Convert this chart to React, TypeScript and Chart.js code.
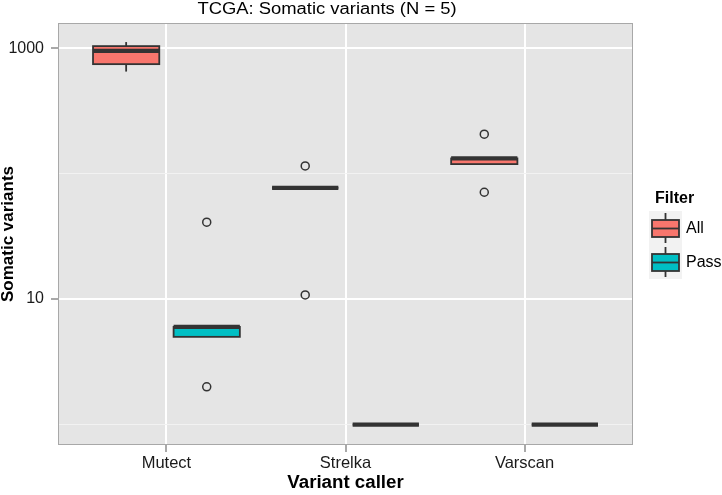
import React, { useEffect, useRef } from 'react';
import { Chart, registerables } from 'chart.js';

Chart.register(...registerables);

const FONT = '"Liberation Sans", Arial, Helvetica, sans-serif';

const chartTitle = 'TCGA: Somatic variants (N = 5)';
const xTitle = 'Variant caller';
const yTitle = 'Somatic variants';
const legendTitle = 'Filter';

const categories = ['Mutect', 'Strelka', 'Varscan'];
const groups = ['All', 'Pass'];
const groupColors = ['#F8766D', '#00BFC4'];

// [lower whisker, q1, median, q3, upper whisker]
const allStats = [
  [650, 745, 951, 1037, 1117],
  [77, 77, 77, 77, 77],
  [119, 119, 132, 132, 132],
];
const passStats = [
  [5, 5, 6, 6, 6],
  [1, 1, 1, 1, 1],
  [1, 1, 1, 1, 1],
];
const allOutliers = [[], [115, 10.8], [206, 71]];
const passOutliers = [[41, 2], [], []];

const yTicks = [1, 10, 100, 1000];
const yTickLabels = ['', '10', '', '1000'];
const yMajor = [10, 1000];

const DODGE = 0.225;
const BOX_WIDTH = 0.37;

const statsByGroup = [allStats, passStats];
const outliersByGroup = [allOutliers, passOutliers];

const panelPlugin = {
  id: 'panel',
  beforeDraw(chart: any) {
    const { ctx, chartArea: a } = chart;
    ctx.save();
    ctx.fillStyle = '#E5E5E5';
    ctx.fillRect(a.left, a.top, a.right - a.left, a.bottom - a.top);
    ctx.restore();
  },
  beforeDatasetsDraw(chart: any) {
    const { ctx } = chart;
    const x = chart.scales.x;
    const y = chart.scales.y;
    ctx.save();
    statsByGroup.forEach((stats, g) => {
      stats.forEach((s, i) => {
        const cx = x.getPixelForValue(i + 1 + (g === 0 ? -DODGE : DODGE));
        const half = (x.getPixelForValue(BOX_WIDTH) - x.getPixelForValue(0)) / 2;
        const [lo, q1, med, q3, hi] = s.map((v) => y.getPixelForValue(v));
        ctx.strokeStyle = '#333333';
        ctx.lineWidth = 1.8;
        ctx.lineCap = 'butt';
        if (hi < q3) {
          ctx.beginPath();
          ctx.moveTo(cx, q3);
          ctx.lineTo(cx, hi);
          ctx.stroke();
        }
        if (lo > q1) {
          ctx.beginPath();
          ctx.moveTo(cx, q1);
          ctx.lineTo(cx, lo);
          ctx.stroke();
        }
        ctx.fillStyle = groupColors[g];
        ctx.fillRect(cx - half, q3, half * 2, q1 - q3);
        ctx.strokeRect(cx - half, q3, half * 2, q1 - q3);
        ctx.lineWidth = 4.2;
        ctx.beginPath();
        ctx.moveTo(cx - half, med);
        ctx.lineTo(cx + half, med);
        ctx.stroke();
      });
    });
    ctx.restore();
  },
  afterDraw(chart: any) {
    const { ctx, chartArea: a } = chart;
    ctx.save();
    ctx.strokeStyle = '#A8A8A8';
    ctx.lineWidth = 1;
    ctx.strokeRect(a.left - 0.5, a.top - 0.5, a.right - a.left + 1, a.bottom - a.top + 1);

    // plot title
    ctx.save();
    ctx.fillStyle = '#000';
    ctx.font = `16px ${FONT}`;
    ctx.textAlign = 'center';
    ctx.textBaseline = 'middle';
    ctx.translate(327, 10);
    ctx.scale(1.15, 1);
    ctx.fillText(chartTitle, 0, 0);
    ctx.restore();

    // legend
    ctx.fillStyle = '#000';
    ctx.font = `bold 16px ${FONT}`;
    ctx.textAlign = 'left';
    ctx.textBaseline = 'middle';
    ctx.fillText(legendTitle, 655, 198.5);
    groups.forEach((name, g) => {
      const kx = 649;
      const ky = 211 + g * 34;
      ctx.fillStyle = '#F2F2F2';
      ctx.fillRect(kx, ky, 33, 34);
      ctx.strokeStyle = '#333333';
      ctx.lineWidth = 1.8;
      ctx.beginPath();
      ctx.moveTo(kx + 16.5, ky + 2);
      ctx.lineTo(kx + 16.5, ky + 32);
      ctx.stroke();
      ctx.fillStyle = groupColors[g];
      ctx.fillRect(kx + 3, ky + 9, 27, 17);
      ctx.strokeRect(kx + 3, ky + 9, 27, 17);
      ctx.beginPath();
      ctx.moveTo(kx + 3, ky + 17.5);
      ctx.lineTo(kx + 30, ky + 17.5);
      ctx.stroke();
      ctx.fillStyle = '#000';
      ctx.font = `16px ${FONT}`;
      ctx.fillText(name, 686, ky + 18);
    });
    ctx.restore();
  },
};

export default function App() {
  const ref = useRef<HTMLCanvasElement | null>(null);

  useEffect(() => {
    if (!ref.current) return;
    Chart.defaults.font.family = FONT;
    const datasets = groups.map((name, g) => ({
      label: name,
      data: outliersByGroup[g].flatMap((vals, i) =>
        vals.map((v) => ({ x: i + 1 + (g === 0 ? -DODGE : DODGE), y: v }))
      ),
      pointRadius: 4,
      pointHoverRadius: 4,
      borderWidth: 1.5,
      borderColor: '#333333',
      backgroundColor: 'rgba(0,0,0,0)',
      showLine: false,
    }));

    const chart = new Chart(ref.current, {
      type: 'scatter',
      data: { datasets },
      plugins: [panelPlugin],
      options: {
        responsive: false,
        animation: false,
        events: [],
        layout: { padding: { left: 0, right: 90, top: 24, bottom: 0 } },
        plugins: {
          legend: { display: false },
          tooltip: { enabled: false },
          title: { display: false },
        },
        scales: {
          x: {
            type: 'linear',
            min: 0.4,
            max: 3.6,
            afterBuildTicks: (s: any) => {
              s.ticks = categories.map((_, i) => ({ value: i + 1 }));
            },
            afterFit: (s: any) => {
              s.height = 51;
            },
            ticks: {
              callback: (v: any) => categories[Number(v) - 1] ?? '',
              font: { size: 16.5, family: FONT },
              color: '#1a1a1a',
              padding: 2,
              maxRotation: 0,
              autoSkip: false,
            },
            grid: {
              color: '#FFFFFF',
              lineWidth: 2,
              tickColor: '#8C8C8C',
              tickLength: 8,
              tickWidth: 1.5,
            },
            border: { display: false },
            title: {
              display: true,
              text: xTitle,
              color: '#000',
              font: { size: 18.7, weight: 'bold', family: FONT, lineHeight: 1 },
              padding: { top: 0, bottom: 3 },
            },
          },
          y: {
            type: 'logarithmic',
            min: 0.705,
            max: 1556,
            afterBuildTicks: (s: any) => {
              s.ticks = yTicks.map((v) => ({ value: v }));
            },
            afterFit: (s: any) => {
              s.width = 59;
            },
            ticks: {
              callback: (v: any) => {
                const idx = yTicks.indexOf(Number(v));
                return idx >= 0 ? yTickLabels[idx] : '';
              },
              font: { size: 16, family: FONT },
              color: '#1a1a1a',
              padding: 7,
              autoSkip: false,
            },
            grid: {
              color: (c: any) => (c.tick && yMajor.includes(c.tick.value) ? '#FFFFFF' : '#F2F2F2'),
              lineWidth: (c: any) => (c.tick && yMajor.includes(c.tick.value) ? 2 : 1),
              tickColor: (c: any) => (c.tick && yMajor.includes(c.tick.value) ? '#8C8C8C' : 'rgba(0,0,0,0)'),
              tickLength: 8,
              tickWidth: 1.5,
            },
            border: { display: false },
            title: {
              display: true,
              text: yTitle,
              color: '#000',
              font: { size: 17, weight: 'bold', family: FONT, lineHeight: 1 },
              padding: { top: 0, bottom: 0 },
            },
          },
        },
      } as any,
    });
    return () => chart.destroy();
  }, []);

  return (
    <div style={{ position: 'absolute', left: 0, top: 0, width: 722, height: 495, background: '#fff' }}>
      <canvas ref={ref} width={722} height={495} style={{ width: 722, height: 495, display: 'block' }} />
    </div>
  );
}
